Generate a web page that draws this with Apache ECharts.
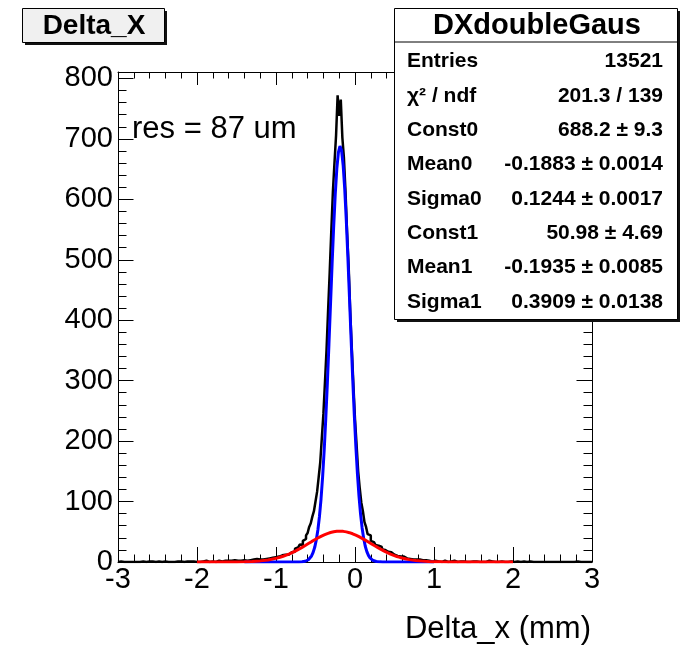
<!DOCTYPE html>
<html><head><meta charset="utf-8">
<script src="https://cdn.jsdelivr.net/npm/echarts@6/dist/echarts.min.js"></script>
<style>html,body{margin:0;padding:0;background:#fff}#c{width:680px;height:646px}</style>
</head><body><div id="c"></div>
<script>
// ---------- data ----------
const histTitle = 'Delta_X';
const xTitle = 'Delta_x (mm)';
const resText = 'res = 87 um';
const binLow = -3, binWidth = 0.02;
const counts = [
 0,1,0,0,1,0,0,0,1,0, 0,0,1,0,0,1,0,0,0,1, 0,1,0,0,0,1,1,0,0,1, 0,0,1,0,1,0,0,1,0,1, 1,0,0,1,0,1,0,1,0,0,
 1,0,1,1,0,2,1,0,1,1, 2,0,1,2,1,1,0,2,1,2, 1,2,1,3,2,
 2,3,2,1,3,4,2,3,3,2, 4,3,5,3,4,5,4,6,5,4, 6,5,7,6,8,
 7,9,8,11,10,12,13,12,15,16,
 18,17,22,24,23,29,28,35,38,44,
 48,58,64,75,84,100,116,140,165,205,
 245,298,352,418,480,548,612,660,705,772,
 738,765,702,668,612,545,488,412,352,292,
 236,194,150,122,98,84,66,58,46,44,
 35,33,30,28,27,24,25,21,20,18,
 17,15,16,13,12,13,10,11,9,8,
 9,7,6,8,5,6,4,5,4,3,
 4,2,3,2,3,1,2,2,1,2,
 2,1,1,2,0,1,2,1,0,1, 1,0,2,1,0,1,1,0,1,0, 0,1,0,1,1,
 0,1,0,0,1,0,1,0,0,2, 0,1,0,0,1,0,0,1,0,0, 1,0,0,1,0,
 0,0,1,0,0,0,1,0,0,0, 1,0,0,0,0,1,0,0,0,0, 0,1,0,0,0,0,0,1,0,0, 0,0,0,1,0,0,0,0,0,0, 1,0,0,0,0,0,0,1,0,0
];
const fitX = [
 -2.0,-1.8,-1.6,-1.5,-1.4,-1.3,-1.2,-1.1,
 -0.99,-0.97,-0.95,-0.93,-0.91,-0.89,-0.87,-0.85,-0.83,-0.81,
 -0.79,-0.77,-0.75,-0.73,-0.71,-0.69,-0.67,-0.65,-0.63,-0.61,
 -0.59,-0.57,-0.55,-0.53,-0.51,-0.49,-0.47,-0.45,-0.43,-0.41,
 -0.39,-0.37,-0.35,-0.33,-0.31,-0.29,-0.27,-0.25,-0.23,-0.21,
 -0.19,-0.17,-0.15,-0.13,-0.11,-0.09,-0.07,-0.05,-0.03,-0.01,
 0.01,0.03,0.05,0.07,0.09,0.11,0.13,0.15,0.17,0.19,
 0.21,0.23,0.25,0.27,0.29,0.31,0.33,0.35,0.37,0.39,
 0.41,0.43,0.45,0.47,0.49,0.51,0.53,0.55,0.57,0.59,
 0.61,0.63,0.65,0.67,0.69,0.71,0.73,0.75,0.77,0.79,
 0.81,0.83,0.85,0.87,0.89,0.91,0.93,0.95,0.97,0.99,
 1.0,1.1,1.2,1.4,1.6,1.8,2.0
];
const gaus0 = [
 null,null,null,null,0,0,0,0,
 0,0,0,0,0,0,0,0,0,0,
 0.01,0.01,0.03,0.05,0.10,0.20,0.38,0.70,1.26,2.20,
 3.74,6.21,10.04,15.83,24.30,36.33,52.98,75.27,104.2,140.6,
 184.9,236.9,295.6,359.7,426.5,492.7,554.7,608.6,650.6,677.8,
 688.1,680.8,656.3,616.6,564.5,503.6,437.8,371.0,306.3,246.4,
 193.2,147.6,109.8,79.7,56.4,38.8,26.1,17.1,10.9,6.75,
 4.10,2.42,1.39,0.77,0.42,0.22,0.11,0.05,0.03,0.01,
 0,0,0,0,0,0,0,0,0,0,
 0,0,0,0,0,0,0,0,0,0,
 0,0,0,0,0,0,0,0,0,0,
 0,null,null,null,null,null,null
];
const gaus1 = [
 0,0.01,0.08,0.19,0.44,0.93,1.85,3.46,
 6.39,7.09,7.84,8.64,9.50,10.43,11.41,12.44,13.54,14.70,
 15.91,17.18,18.51,19.88,21.30,22.75,24.25,25.78,27.33,28.90,
 30.48,32.06,33.64,35.20,36.73,38.24,39.70,41.10,42.46,43.73,
 44.93,46.04,47.06,47.96,48.76,49.45,50.01,50.45,50.76,50.93,
 50.98,50.89,50.67,50.31,49.83,49.22,48.50,47.66,46.71,45.66,
 44.51,43.29,41.97,40.60,39.16,37.69,36.17,34.62,33.06,31.48,
 29.90,28.32,26.76,25.22,23.71,22.23,20.78,19.38,18.02,16.72,
 15.47,14.26,13.11,12.03,11.00,10.05,9.15,8.32,7.55,6.82,
 6.15,5.53,4.96,4.43,3.96,3.52,3.12,2.77,2.44,2.15,
 1.89,1.66,1.45,1.26,1.10,0.95,0.82,0.71,0.61,0.52,
 0.48,0.21,0.09,0.01,0,0,0
];
const statsTitle = 'DXdoubleGaus';
const statsLabels = ['Entries','\u03c7\u00b2 / ndf','Const0','Mean0','Sigma0','Const1','Mean1','Sigma1'];
const statsValues = ['13521','201.3 / 139','688.2 \u00b1 9.3','-0.1883 \u00b1 0.0014','0.1244 \u00b1 0.0017','50.98 \u00b1 4.69','-0.1935 \u00b1 0.0085','0.3909 \u00b1 0.0138'];
const xMin = -3, xMax = 3, xStep = 1;
const yMin = 0, yMax = 810.6, yStep = 100, yMinorStep = 20;

// ---------- build ----------
const FONT = "'Liberation Sans', Arial, Helvetica, sans-serif";
const histData = counts.map((c, i) => [binLow + i * binWidth, c]);
histData.push([binLow + counts.length * binWidth, counts[counts.length - 1]]);
const blueData = [], redData = [];
fitX.forEach((x, i) => {
  if (gaus0[i] !== null) blueData.push([x, gaus0[i]]);
  if (gaus1[i] !== null) redData.push([x, gaus1[i]]);
});

const black = '#000';
function xAxisDef(pos, showLabel, tickLen, minorLen) {
  return {
    type: 'value', position: pos, min: xMin, max: xMax, interval: xStep,
    axisLine: { show: true, onZero: false, lineStyle: { color: black, width: 1 } },
    axisTick: { show: true, inside: true, length: tickLen, lineStyle: { color: black, width: 1 } },
    minorTick: { show: true, splitNumber: 5, length: minorLen, lineStyle: { color: black, width: 1 } },
    axisLabel: { show: showLabel, fontSize: 29, fontFamily: FONT, color: black, margin: 3 },
    splitLine: { show: false }, minorSplitLine: { show: false }
  };
}
function yAxisDef(pos, step, showLabel, tickLen, showLine) {
  return {
    type: 'value', position: pos, min: yMin, max: yMax, interval: step,
    axisLine: { show: showLine, onZero: false, lineStyle: { color: black, width: 1 } },
    axisTick: { show: true, inside: true, length: tickLen, lineStyle: { color: black, width: 1 } },
    axisLabel: { show: showLabel, fontSize: 29, fontFamily: FONT, color: black, margin: 5,
      showMaxLabel: false,
      formatter: v => (Math.abs(v % yStep) < 1e-6 ? String(v) : '') },
    splitLine: { show: false }
  };
}

const graphics = [];
// title box
graphics.push({ type: 'rect', z: 100, shape: { x: 25, y: 11, width: 142, height: 34 }, style: { fill: '#111' } });
graphics.push({ type: 'rect', z: 101, shape: { x: 22.5, y: 8.5, width: 142, height: 34 }, style: { fill: '#f0f0f0', stroke: black, lineWidth: 1 } });
graphics.push({ type: 'text', z: 102, x: 94, y: 26, style: { text: histTitle, font: 'bold 28px ' + FONT, fill: black, align: 'center', verticalAlign: 'middle' } });
// stats box
graphics.push({ type: 'rect', z: 100, shape: { x: 397, y: 11, width: 283, height: 311 }, style: { fill: '#111' } });
graphics.push({ type: 'rect', z: 101, shape: { x: 394.5, y: 8.5, width: 283, height: 311 }, style: { fill: '#fff', stroke: black, lineWidth: 1 } });
graphics.push({ type: 'line', z: 102, shape: { x1: 394.5, y1: 42, x2: 677.5, y2: 42 }, style: { stroke: black, lineWidth: 1 } });
graphics.push({ type: 'text', z: 102, x: 537, y: 26, style: { text: statsTitle, font: 'bold 29px ' + FONT, fill: black, align: 'center', verticalAlign: 'middle' } });
statsLabels.forEach((lab, k) => {
  const y = 61.5 + k * 34.36;
  graphics.push({ type: 'text', z: 102, x: 407, y: y, style: { text: lab, font: 'bold 21px ' + FONT, fill: black, align: 'left', verticalAlign: 'middle' } });
  graphics.push({ type: 'text', z: 102, x: 663, y: y, style: { text: statsValues[k], font: 'bold 21px ' + FONT, fill: black, align: 'right', verticalAlign: 'middle' } });
});
// annotation and axis title
graphics.push({ type: 'text', z: 102, x: 132, y: 129, style: { text: resText, font: '31px ' + FONT, fill: black, align: 'left', verticalAlign: 'middle' } });
graphics.push({ type: 'text', z: 102, x: 591, y: 629, style: { text: xTitle, font: '31px ' + FONT, fill: black, align: 'right', verticalAlign: 'middle' } });

const option = {
  animation: false,
  backgroundColor: '#fff',
  grid: { left: 118, right: 88, top: 72, bottom: 84, containLabel: false },
  xAxis: [xAxisDef('bottom', true, 15, 7.5), xAxisDef('top', false, 13, 6.5)],
  yAxis: [
    yAxisDef('left', yStep, true, 15.5, true),
    yAxisDef('left', yMinorStep, false, 8.5, false),
    yAxisDef('right', yStep, false, 15.5, true),
    yAxisDef('right', yMinorStep, false, 8.5, false)
  ],
  series: [
    { type: 'line', xAxisIndex: 0, yAxisIndex: 0, data: histData, step: 'end', symbol: 'none', showSymbol: false,
      lineStyle: { color: black, width: 2.5 }, z: 2, silent: true },
    { type: 'line', xAxisIndex: 0, yAxisIndex: 0, data: blueData, symbol: 'none', showSymbol: false,
      lineStyle: { color: '#0000ff', width: 3 }, z: 3, silent: true },
    { type: 'line', xAxisIndex: 0, yAxisIndex: 0, data: redData, symbol: 'none', showSymbol: false,
      lineStyle: { color: '#ff0000', width: 3 }, z: 4, silent: true }
  ],
  graphic: graphics
};
const chart = echarts.init(document.getElementById('c'), null, { renderer: 'canvas' });
chart.setOption(option);
</script></body></html>
